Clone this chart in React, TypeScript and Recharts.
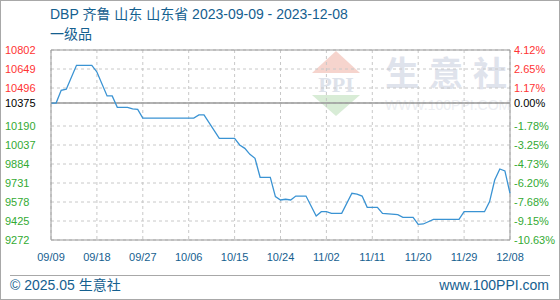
import { LineChart, Line, XAxis, YAxis, CartesianGrid, ReferenceLine } from "recharts";

// DBP 齐鲁 山东 — 2023-09-09 .. 2023-12-08, day offset from 09/09
const days = [
  0, 1, 2, 3, 5, 8, 9, 11, 12, 13, 15, 16, 17, 18, 28, 29, 30, 33, 36, 37, 38, 39, 40, 41, 43, 44,
  45, 46, 47, 48, 50, 52, 53, 54, 55, 57, 59, 60, 61, 62, 64, 65, 68, 69, 71, 72, 73, 75, 80, 81,
  85, 86, 87, 88, 89, 90,
];
const prices = [
  10375, 10375, 10477, 10486, 10679, 10679, 10625, 10432, 10432, 10340, 10340, 10328, 10324, 10254,
  10254, 10279, 10279, 10091, 10091, 10037, 10010, 9962, 9930, 9777, 9777, 9621, 9594, 9600, 9594,
  9626, 9626, 9465, 9500, 9500, 9487, 9487, 9648, 9642, 9626, 9535, 9535, 9487, 9476, 9454, 9454,
  9398, 9401, 9438, 9438, 9500, 9500, 9581, 9755, 9844, 9828, 9648,
];

const xTicks = [0, 9, 18, 27, 36, 45, 54, 63, 72, 81, 90];
const dateLabels = ["09/09", "09/18", "09/27", "10/06", "10/15", "10/24", "11/02", "11/11", "11/20", "11/29", "12/08"];
const yTicks = [10802, 10649, 10496, 10375, 10190, 10037, 9884, 9731, 9578, 9425, 9272];
const pctLabels = ["4.12%", "2.65%", "1.17%", "0.00%", "-1.78%", "-3.25%", "-4.73%", "-6.20%", "-7.68%", "-9.15%", "-10.63%"];
const BASE = 10375;

const data = days.map((d, i) => ({ day: d, price: prices[i] }));

const FONT = "'Liberation Sans', 'Noto Sans CJK SC', sans-serif";
const BLUE = "#15608f";

function YTick({ y, payload }: any) {
  const v = payload.value;
  const fill = v > BASE ? "#ff3333" : v < BASE ? "#33aa33" : "#000";
  const idx = yTicks.indexOf(v);
  return (
    <g>
      <text x={5} y={y} dy={4} fill={fill} fontSize={11} fontFamily={FONT}>
        {v}
      </text>
      <text x={514} y={y} dy={4} fill={fill} fontSize={11} fontFamily={FONT}>
        {pctLabels[idx]}
      </text>
    </g>
  );
}

function XTick({ x, payload }: any) {
  const idx = xTicks.indexOf(payload.value);
  return (
    <text x={x} y={261} textAnchor="middle" fill={BLUE} fontSize={11} fontFamily={FONT}>
      {dateLabels[idx]}
    </text>
  );
}

export default function App() {
  return (
    <div style={{ position: "fixed", left: 0, top: 0, width: 560, height: 300, background: "#fff" }}>
      {/* titles, footer, watermark */}
      <svg width={560} height={300} style={{ position: "absolute", left: 0, top: 0 }}>
        <text x={50} y={19} fill={BLUE} fontSize={14} fontFamily={FONT}>
          DBP 齐鲁 山东 山东省 2023-09-09 - 2023-12-08
        </text>
        <text x={50} y={39} fill={BLUE} fontSize={14} fontFamily={FONT}>
          一级品
        </text>
        <polygon points="336,51 312,73 360,73" fill="#f6d4cd" />
        <text x={336} y={92} textAnchor="middle" fill="#dde2ea" fontSize={22} fontWeight="bold" fontFamily="'Liberation Serif', serif">
          PPI
        </text>
        <polygon points="312,95 360,95 336,116" fill="#d8ecd6" />
        <g fill="#dfe3ec" fontSize={34} fontWeight="bold" fontFamily={FONT}>
          <text x={385} y={86}>生</text>
          <text x={429} y={86}>意</text>
          <text x={473} y={86}>社</text>
        </g>
        <text x={385} y={110} fill="#eceef2" fontSize={14} fontFamily={FONT}>
          WWW.100PPI.COM
        </text>
        <line x1={10} y1={275.5} x2={550} y2={275.5} stroke="#a8a8a8" />
        <text x={10} y={290} fill={BLUE} fontSize={14} fontFamily={FONT}>
          © 2025.05 生意社
        </text>
        <text x={549} y={290} textAnchor="end" fill={BLUE} fontSize={14} fontFamily={FONT}>
          www.100PPI.com
        </text>
      </svg>
      <div style={{ position: "absolute", left: 0, top: 0 }}>
        <LineChart width={560} height={300} data={data} margin={{ top: 50, right: 50, bottom: 0, left: 0 }}>
          <CartesianGrid stroke="#c8c8c8" strokeDasharray="3 3" />
          <XAxis
            dataKey="day"
            type="number"
            domain={[0, 90]}
            ticks={xTicks}
            interval={0}
            height={60}
            tickLine={false}
            axisLine={{ stroke: "#999" }}
            tick={<XTick />}
          />
          <YAxis
            type="number"
            domain={[9272, 10802]}
            ticks={yTicks}
            interval={0}
            width={51}
            tickLine={false}
            axisLine={{ stroke: "#999" }}
            tick={<YTick />}
          />
          <ReferenceLine y={10802} stroke="#999" />
          <ReferenceLine x={90} stroke="#999" />
          <ReferenceLine y={BASE} stroke="#999" strokeWidth={1.5} />
          <Line
            type="linear"
            dataKey="price"
            stroke="#3a93d3"
            strokeWidth={1.3}
            dot={false}
            isAnimationActive={false}
          />
        </LineChart>
      </div>
      <div
        style={{
          position: "absolute",
          left: 0,
          top: 0,
          width: 560,
          height: 300,
          boxSizing: "border-box",
          border: "1px solid #a8a8a8",
          pointerEvents: "none",
        }}
      />
    </div>
  );
}
